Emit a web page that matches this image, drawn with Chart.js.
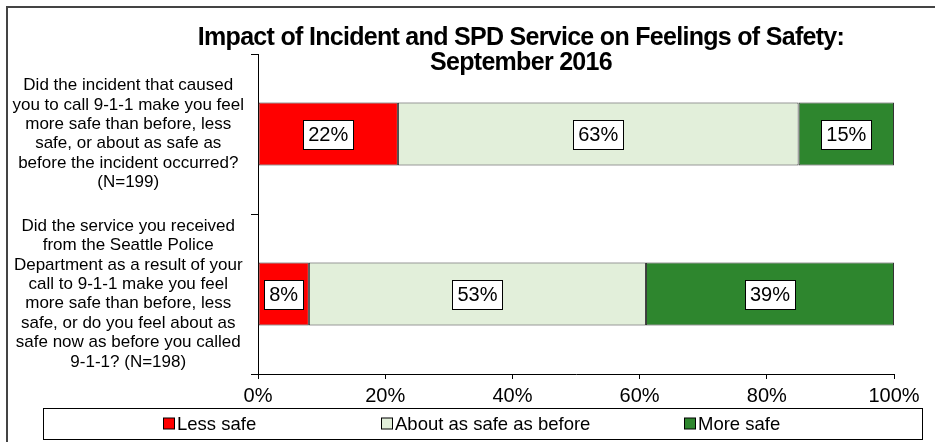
<!DOCTYPE html>
<html>
<head>
<meta charset="utf-8">
<script src="https://cdn.jsdelivr.net/npm/chart.js@4"></script>
<style>
html,body{margin:0;padding:0;background:#fff;}
#wrap{width:935px;height:442px;position:relative;}
</style>
</head>
<body>
<div id="wrap"><canvas id="c" width="935" height="442"></canvas></div>
<script>
const titleLines = ["Impact of Incident and SPD Service on Feelings of Safety:", "September 2016"];
const categories = [
  ["Did the incident that caused", "you to call 9-1-1 make you feel", "more safe than before, less", "safe, or about as safe as", "before the incident occurred?", "(N=199)"],
  ["Did the service you received", "from the Seattle Police", "Department as a result of your", "call to 9-1-1 make you feel", "more safe than before, less", "safe, or do you feel about as", "safe now as before you called", "9-1-1? (N=198)"]
];
const seriesNames = ["Less safe", "About as safe as before", "More safe"];
const lessSafe = [22, 8];
const aboutSame = [63, 53];
const moreSafe = [15, 39];
const xTicks = [0, 20, 40, 60, 80, 100];
const colors = ["#FF0000", "#E2EFDA", "#2E862E"];

const FONT = "'Liberation Sans', Arial, sans-serif";

const framePlugin = {
  id: 'frame',
  beforeDraw(chart) {
    const ctx = chart.ctx;
    ctx.save();
    ctx.fillStyle = '#fff';
    ctx.fillRect(0, 0, chart.width, chart.height);
    ctx.strokeStyle = '#444';
    ctx.lineWidth = 2;
    ctx.beginPath();
    ctx.moveTo(7, 442);
    ctx.lineTo(7, 7);
    ctx.lineTo(935, 7);
    ctx.stroke();
    ctx.restore();
  }
};

const titlePlugin = {
  id: 'customTitle',
  afterDraw(chart) {
    const ctx = chart.ctx;
    ctx.save();
    ctx.fillStyle = '#000';
    ctx.font = "bold 25px " + FONT;
    ctx.letterSpacing = "-0.7px";
    ctx.textAlign = 'center';
    ctx.textBaseline = 'middle';
    ctx.fillText(titleLines[0], 521, 38);
    ctx.fillText(titleLines[1], 521, 63);
    ctx.restore();
  }
};

const labelPlugin = {
  id: 'boxLabels',
  afterDatasetsDraw(chart) {
    const ctx = chart.ctx;
    ctx.save();
    ctx.font = "20px " + FONT;
    ctx.textAlign = 'center';
    ctx.textBaseline = 'middle';
    chart.data.datasets.forEach((ds, i) => {
      const meta = chart.getDatasetMeta(i);
      meta.data.forEach((el, j) => {
        const v = ds.data[j];
        const txt = v + '%';
        const x = (el.x + el.base) / 2;
        const y = el.y;
        const w = Math.round(ctx.measureText(txt).width + 10);
        const h = 29;
        const lx = Math.round(x - w / 2) + 0.5, ty = Math.round(y - h / 2) + 0.5;
        ctx.fillStyle = '#fff';
        ctx.fillRect(lx, ty, w, h);
        ctx.strokeStyle = '#000';
        ctx.lineWidth = 1;
        ctx.strokeRect(lx, ty, w, h);
        ctx.fillStyle = '#000';
        ctx.fillText(txt, x, y + 1);
      });
    });
    ctx.restore();
  }
};

const legendPlugin = {
  id: 'boxLegend',
  afterDraw(chart, args, opts) {
    const ctx = chart.ctx;
    ctx.save();
    ctx.strokeStyle = '#000';
    ctx.lineWidth = 1;
    ctx.strokeRect(opts.left + 0.5, opts.top + 0.5, opts.right - opts.left, opts.bottom - opts.top);
    const cy = (opts.top + opts.bottom) / 2;
    ctx.font = "18.5px " + FONT;
    ctx.textBaseline = 'middle';
    ctx.textAlign = 'left';
    chart.data.datasets.forEach((ds, i) => {
      const x = opts.itemX[i];
      ctx.fillStyle = ds.backgroundColor;
      ctx.fillRect(x + 0.5, cy - 5.5, 11, 11);
      ctx.strokeStyle = '#000';
      ctx.strokeRect(x + 0.5, cy - 5.5, 11, 11);
      ctx.fillStyle = '#000';
      ctx.fillText(ds.label, x + 14, cy + 1);
    });
    ctx.restore();
  }
};

new Chart(document.getElementById('c'), {
  type: 'bar',
  data: {
    labels: categories,
    datasets: [
      { label: seriesNames[0], data: lessSafe, backgroundColor: colors[0] },
      { label: seriesNames[1], data: aboutSame, backgroundColor: colors[1] },
      { label: seriesNames[2], data: moreSafe, backgroundColor: colors[2] }
    ].map(d => Object.assign(d, {
      borderColor: '#333', borderWidth: 1, borderSkipped: false,
      barPercentage: 0.395, categoryPercentage: 1
    }))
  },
  options: {
    indexAxis: 'y',
    responsive: false,
    animation: false,
    devicePixelRatio: 1,
    layout: { padding: { top: 54, right: 41, bottom: 40, left: 0 } },
    plugins: {
      legend: { display: false },
      title: { display: false },
      tooltip: { enabled: false },
      boxLegend: { left: 43, right: 922, top: 408, bottom: 439, itemX: [163, 381, 684] }
    },
    scales: {
      x: {
        stacked: true,
        min: 0, max: 100,
        afterBuildTicks(scale) { scale.ticks = xTicks.map(v => ({ value: v })); },
        ticks: {
          callback: v => v + '%',
          color: '#000',
          font: { family: FONT, size: 20 },
          padding: 5,
          maxRotation: 0
        },
        grid: { drawOnChartArea: false, drawTicks: true, tickLength: 5, color: '#000' },
        border: { color: '#000', width: 1 },
        afterFit(scale) { scale.height = 28; scale.paddingLeft = 0; scale.paddingRight = 0; }
      },
      y: {
        stacked: true,
        ticks: {
          color: '#000',
          font: { family: FONT, size: 17, lineHeight: 1.14 },
          crossAlign: 'center',
          padding: 7,
          autoSkip: false
        },
        grid: { drawOnChartArea: false, drawTicks: true, tickLength: 7, color: '#000', offset: true },
        border: { color: '#000', width: 1 },
        afterFit(scale) { scale.width = 258; scale.paddingTop = 0; scale.paddingBottom = 0; }
      }
    }
  },
  plugins: [framePlugin, labelPlugin, titlePlugin, legendPlugin]
});
</script>
</body>
</html>
